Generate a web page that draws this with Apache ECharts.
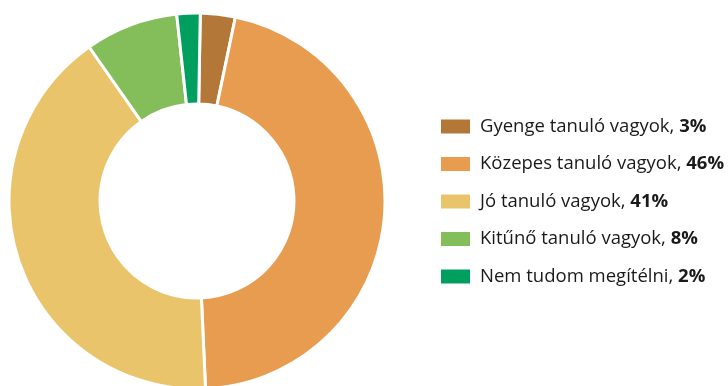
<!DOCTYPE html>
<html>
<head>
<meta charset="utf-8">
<script src="https://cdn.jsdelivr.net/npm/echarts@6/dist/echarts.min.js"></script>
<style>
  html, body { margin: 0; padding: 0; background: #ffffff; }
  #chart { width: 728px; height: 386px; }
</style>
</head>
<body>
<div id="chart"></div>
<script>
// Self-assessment of students: share of each answer (%)
const categories = [
  'Gyenge tanuló vagyok',
  'Közepes tanuló vagyok',
  'Jó tanuló vagyok',
  'Kitűnő tanuló vagyok',
  'Nem tudom megítélni'
];
const values = [3, 46, 41, 8, 2];
const colors = ['#B37838', '#E89C50', '#E9C46A', '#83BE5B', '#009F5F'];

const chart = echarts.init(document.getElementById('chart'), null, { renderer: 'canvas' });

const data = categories.map((name, i) => ({
  name: name,
  value: values[i],
  itemStyle: { color: colors[i] }
}));

chart.setOption({
  animation: false,
  backgroundColor: '#ffffff',
  legend: {
    orient: 'vertical',
    left: 439,
    top: 117,
    padding: 0,
    icon: 'rect',
    itemWidth: 31,
    itemHeight: 16,
    itemGap: 18.5,
    data: categories,
    formatter: function (name) {
      const i = categories.indexOf(name);
      return '{t|' + name + ', }{b|' + values[i] + '%}';
    },
    textStyle: {
      padding: [0, 0, 0, 4],
      rich: {
        t: { fontFamily: 'Open Sans', fontSize: 18.5, color: '#1a1a1a', lineHeight: 16 },
        b: { fontFamily: 'Open Sans', fontSize: 18.5, fontWeight: 'bold', color: '#1a1a1a', lineHeight: 16 }
      }
    }
  },
  series: [{
    type: 'pie',
    center: [197, 201],
    radius: [97, 188],
    startAngle: 89,
    clockwise: true,
    label: { show: false },
    labelLine: { show: false },
    itemStyle: { borderColor: '#ffffff', borderWidth: 3 },
    emphasis: { disabled: true },
    data: data
  }]
});
</script>
</body>
</html>
